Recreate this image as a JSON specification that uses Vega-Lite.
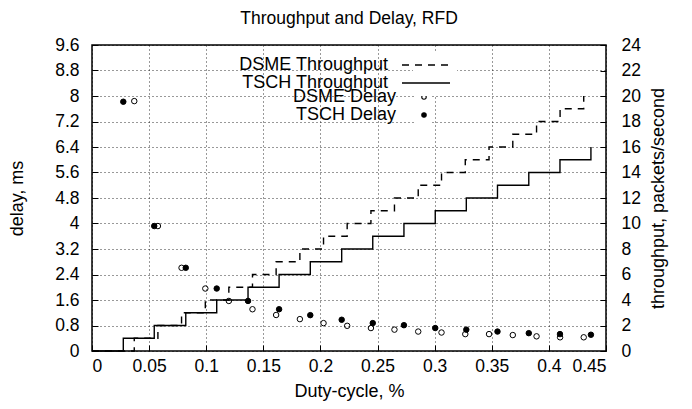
{
  "$schema": "https://vega.github.io/schema/vega-lite/v6.json",
  "width": 514,
  "height": 306,
  "autosize": {"type": "none"},
  "padding": {"left": 92, "top": 45, "right": 86, "bottom": 58},
  "background": "white",
  "title": {"text": "Throughput and Delay, RFD", "offset": 9, "fontSize": 17.5, "fontWeight": "normal", "font": "Liberation Sans", "color": "black"},
  "config": {
    "font": "Liberation Sans",
    "view": {"stroke": "black", "strokeWidth": 1.5},
    "axis": {
      "labelFont": "Liberation Sans", "titleFont": "Liberation Sans",
      "labelFontSize": 17.5, "titleFontSize": 18, "titleFontWeight": "normal",
      "labelColor": "black", "titleColor": "black", "labelOverlap": false,
      "domain": false, "tickColor": "black", "tickSize": -6, "tickWidth": 1,
      "gridColor": "black", "gridDash": [1, 3], "gridOpacity": 0.8
    },
    "legend": {
      "title": null, "orient": "none", "fillColor": "white",
      "labelFont": "Liberation Sans", "labelFontSize": 18, "labelColor": "black",
      "labelAlign": "right", "labelLimit": 300, "symbolOffset": 0, "rowPadding": -1.5
    }
  },
  "datasets": {
    "thr": [
      {"series": "DSME Throughput", "x": 0, "y": 0},
      {"series": "DSME Throughput", "x": 0.037, "y": 1},
      {"series": "DSME Throughput", "x": 0.0577, "y": 2},
      {"series": "DSME Throughput", "x": 0.0784, "y": 3},
      {"series": "DSME Throughput", "x": 0.0992, "y": 4},
      {"series": "DSME Throughput", "x": 0.1198, "y": 5},
      {"series": "DSME Throughput", "x": 0.1405, "y": 6},
      {"series": "DSME Throughput", "x": 0.1612, "y": 7},
      {"series": "DSME Throughput", "x": 0.182, "y": 8},
      {"series": "DSME Throughput", "x": 0.2027, "y": 9},
      {"series": "DSME Throughput", "x": 0.2234, "y": 10},
      {"series": "DSME Throughput", "x": 0.2442, "y": 11},
      {"series": "DSME Throughput", "x": 0.2648, "y": 12},
      {"series": "DSME Throughput", "x": 0.2856, "y": 13},
      {"series": "DSME Throughput", "x": 0.306, "y": 14},
      {"series": "DSME Throughput", "x": 0.3268, "y": 15},
      {"series": "DSME Throughput", "x": 0.3476, "y": 16},
      {"series": "DSME Throughput", "x": 0.3684, "y": 17},
      {"series": "DSME Throughput", "x": 0.3892, "y": 18},
      {"series": "DSME Throughput", "x": 0.4098, "y": 19},
      {"series": "DSME Throughput", "x": 0.4305, "y": 20},
      {"series": "TSCH Throughput", "x": 0, "y": 0},
      {"series": "TSCH Throughput", "x": 0.0274, "y": 1},
      {"series": "TSCH Throughput", "x": 0.0545, "y": 2},
      {"series": "TSCH Throughput", "x": 0.0821, "y": 3},
      {"series": "TSCH Throughput", "x": 0.1092, "y": 4},
      {"series": "TSCH Throughput", "x": 0.1366, "y": 5},
      {"series": "TSCH Throughput", "x": 0.1638, "y": 6},
      {"series": "TSCH Throughput", "x": 0.1911, "y": 7},
      {"series": "TSCH Throughput", "x": 0.2186, "y": 8},
      {"series": "TSCH Throughput", "x": 0.2458, "y": 9},
      {"series": "TSCH Throughput", "x": 0.2731, "y": 10},
      {"series": "TSCH Throughput", "x": 0.3005, "y": 11},
      {"series": "TSCH Throughput", "x": 0.3277, "y": 12},
      {"series": "TSCH Throughput", "x": 0.355, "y": 13},
      {"series": "TSCH Throughput", "x": 0.3824, "y": 14},
      {"series": "TSCH Throughput", "x": 0.4097, "y": 15},
      {"series": "TSCH Throughput", "x": 0.4368, "y": 16}
    ],
    "delay": [
      {"series": "DSME Delay", "x": 0.037, "y": 7.84},
      {"series": "DSME Delay", "x": 0.0577, "y": 3.92},
      {"series": "DSME Delay", "x": 0.0784, "y": 2.61},
      {"series": "DSME Delay", "x": 0.0992, "y": 1.96},
      {"series": "DSME Delay", "x": 0.1198, "y": 1.57},
      {"series": "DSME Delay", "x": 0.1405, "y": 1.31},
      {"series": "DSME Delay", "x": 0.1612, "y": 1.13},
      {"series": "DSME Delay", "x": 0.182, "y": 1.0},
      {"series": "DSME Delay", "x": 0.2027, "y": 0.875},
      {"series": "DSME Delay", "x": 0.2234, "y": 0.79},
      {"series": "DSME Delay", "x": 0.2442, "y": 0.72},
      {"series": "DSME Delay", "x": 0.2648, "y": 0.67},
      {"series": "DSME Delay", "x": 0.2856, "y": 0.61},
      {"series": "DSME Delay", "x": 0.306, "y": 0.58},
      {"series": "DSME Delay", "x": 0.3268, "y": 0.53},
      {"series": "DSME Delay", "x": 0.3476, "y": 0.53},
      {"series": "DSME Delay", "x": 0.3684, "y": 0.5},
      {"series": "DSME Delay", "x": 0.3892, "y": 0.46},
      {"series": "DSME Delay", "x": 0.4098, "y": 0.43},
      {"series": "DSME Delay", "x": 0.4305, "y": 0.43},
      {"series": "TSCH Delay", "x": 0.0274, "y": 7.82},
      {"series": "TSCH Delay", "x": 0.0545, "y": 3.92},
      {"series": "TSCH Delay", "x": 0.0821, "y": 2.61},
      {"series": "TSCH Delay", "x": 0.1092, "y": 1.96},
      {"series": "TSCH Delay", "x": 0.1366, "y": 1.57},
      {"series": "TSCH Delay", "x": 0.1638, "y": 1.31},
      {"series": "TSCH Delay", "x": 0.1911, "y": 1.125},
      {"series": "TSCH Delay", "x": 0.2186, "y": 0.98},
      {"series": "TSCH Delay", "x": 0.2458, "y": 0.875},
      {"series": "TSCH Delay", "x": 0.2731, "y": 0.81},
      {"series": "TSCH Delay", "x": 0.3005, "y": 0.72},
      {"series": "TSCH Delay", "x": 0.3277, "y": 0.67},
      {"series": "TSCH Delay", "x": 0.355, "y": 0.61},
      {"series": "TSCH Delay", "x": 0.3824, "y": 0.56},
      {"series": "TSCH Delay", "x": 0.4097, "y": 0.53},
      {"series": "TSCH Delay", "x": 0.4368, "y": 0.51}
    ]
  },
  "layer": [
    {
      "data": {"name": "delay"},
      "mark": {"type": "point", "shape": "circle", "filled": true, "size": 30, "stroke": "black", "strokeWidth": 1, "opacity": 1},
      "encoding": {
        "x": {"field": "x", "type": "quantitative", "scale": {"domain": [0, 0.45], "nice": false, "zero": false},
          "axis": {"title": "Duty-cycle, %", "values": [0, 0.05, 0.1, 0.15, 0.2, 0.25, 0.3, 0.35, 0.4, 0.45], "tickCount": 10, "format": "~g", "grid": true, "labelPadding": 12, "titlePadding": 8}},
        "y": {"field": "y", "type": "quantitative", "scale": {"domain": [0, 9.6], "nice": false, "zero": false},
          "axis": {"orient": "left", "title": "delay, ms", "values": [0, 0.8, 1.6, 2.4, 3.2, 4, 4.8, 5.6, 6.4, 7.2, 8, 8.8, 9.6], "tickCount": 13, "format": ".2~g", "grid": true, "labelPadding": 19, "titlePadding": 28}},
        "fill": {"field": "series", "type": "nominal",
          "scale": {"domain": ["DSME Delay", "TSCH Delay"], "range": ["transparent", "black"]},
          "legend": {"legendX": 322, "legendY": 42, "padding": 1, "symbolType": "circle", "symbolSize": 20, "symbolStrokeColor": "black", "symbolStrokeWidth": 1.1, "labelOffset": -37}}
      }
    },
    {
      "data": {"name": "thr"},
      "mark": {"type": "line", "interpolate": "step-after", "strokeWidth": 1.4, "color": "black"},
      "encoding": {
        "x": {"field": "x", "type": "quantitative"},
        "y": {"field": "y", "type": "quantitative", "scale": {"domain": [0, 24], "nice": false, "zero": false},
          "axis": {"orient": "right", "title": "throughput, packets/second", "titleAngle": 270, "values": [0, 2, 4, 6, 8, 10, 12, 14, 16, 18, 20, 22, 24], "tickCount": 13, "grid": false, "labelPadding": 21, "titlePadding": 27}},
        "strokeDash": {"field": "series", "type": "nominal",
          "scale": {"domain": ["DSME Throughput", "TSCH Throughput"], "range": [[7, 6], [1, 0]]},
          "legend": {"legendX": 321, "legendY": 7, "padding": 4, "symbolType": "M-4,0H4", "symbolSize": 144, "symbolStrokeColor": "black", "symbolStrokeWidth": 1.4, "labelOffset": -47}}
      }
    }
  ],
  "resolve": {"scale": {"y": "independent"}, "axis": {"y": "independent"}}
}
